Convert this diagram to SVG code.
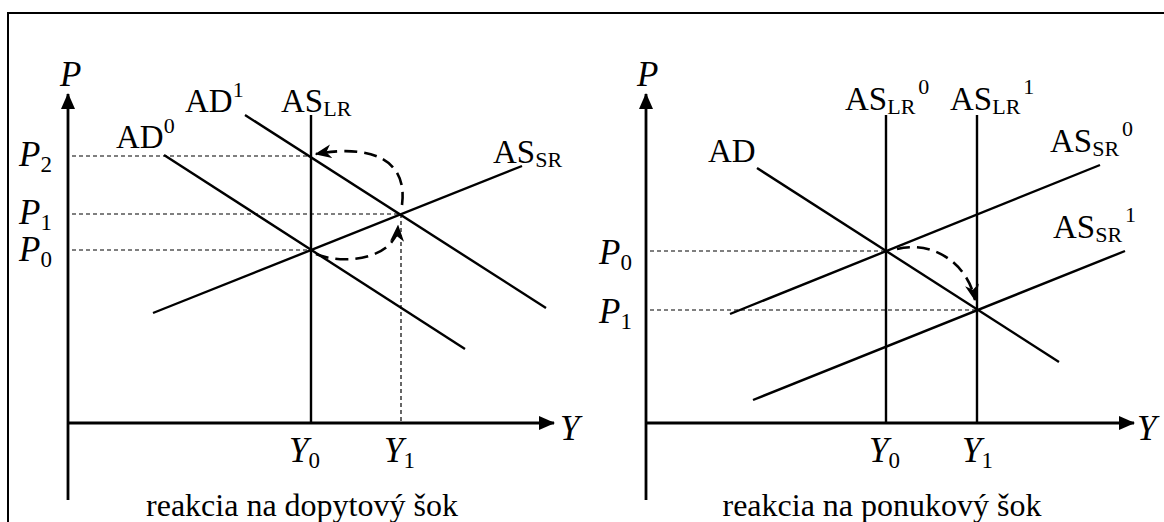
<svg xmlns="http://www.w3.org/2000/svg" width="1164" height="522" viewBox="0 0 1164 522">
<style>
text{font-family:"Liberation Serif","Times New Roman",serif;font-size:33px;fill:#000}
.it{font-style:italic;font-size:35px}
.sm{font-size:22px;font-style:normal}
.it .sm{font-size:23px}
.cap{font-size:32px}
.ln{stroke:#000;stroke-width:2.4;fill:none}
.ax{stroke:#000;stroke-width:2.8;fill:none}
.dl{stroke:#000;stroke-width:1.2;stroke-dasharray:4 3;fill:none}
.cv{stroke:#000;stroke-width:2.6;stroke-dasharray:13 7;fill:none}
</style>
<defs>
<marker id="ah" viewBox="0 0 12 10" refX="11" refY="5" markerWidth="17" markerHeight="14" markerUnits="userSpaceOnUse" orient="auto">
<path d="M0,0 L12,5 L0,10 L3.5,5 Z" fill="#000"/>
</marker>
<marker id="ax" viewBox="0 0 16 14" refX="15" refY="7" markerWidth="16" markerHeight="14" markerUnits="userSpaceOnUse" orient="auto">
<path d="M0,0 L16,7 L0,14 Z" fill="#000"/>
</marker>
</defs>
<rect width="1164" height="522" fill="#fff"/>
<path d="M8,522 V13 H1164" stroke="#000" stroke-width="2" fill="none"/>

<g id="left-panel">
<g id="left-axes">
<line class="ax" x1="68" y1="500" x2="68" y2="94" marker-end="url(#ax)"/>
<line class="ax" x1="67" y1="423" x2="554" y2="423" marker-end="url(#ax)"/>
<text class="it" x="60" y="86">P</text>
<text class="it" x="560" y="440">Y</text>
</g>
<g id="left-connectors">
<line class="dl" x1="72" y1="156" x2="311" y2="156"/>
<line class="dl" x1="72" y1="214" x2="401" y2="214"/>
<line class="dl" x1="72" y1="250" x2="311" y2="250"/>
<line class="dl" x1="401" y1="214" x2="401" y2="423"/>
<line class="ln" x1="311" y1="115" x2="311" y2="423"/>
<line class="ln" x1="164" y1="155" x2="465" y2="349"/>
<line class="ln" x1="245" y1="115" x2="546" y2="308"/>
<line class="ln" x1="153" y1="313" x2="522" y2="166"/>
<path class="cv" d="M316,254 C345,266 396,258 398,226" marker-end="url(#ah)"/>
<path class="cv" d="M402,205 C408,160 372,144 316,154" marker-end="url(#ah)"/>
</g>
<g id="left-labels">
<text x="116" y="148">AD<tspan class="sm" dy="-15">0</tspan></text>
<text x="185" y="112">AD<tspan class="sm" dy="-15">1</tspan></text>
<text x="281" y="112">AS<tspan class="sm" dy="4">LR</tspan></text>
<text x="493" y="163">AS<tspan class="sm" dy="4">SR</tspan></text>
<text class="it" x="19" y="166">P<tspan class="sm" dy="6">2</tspan></text>
<text class="it" x="19" y="224">P<tspan class="sm" dy="6">1</tspan></text>
<text class="it" x="19" y="261">P<tspan class="sm" dy="6">0</tspan></text>
<text class="it" x="289" y="462">Y<tspan class="sm" dy="6">0</tspan></text>
<text class="it" x="384" y="462">Y<tspan class="sm" dy="6">1</tspan></text>
<text class="cap" x="302" y="516" text-anchor="middle">reakcia na dopytový šok</text>
</g>
</g>

<g id="right-panel">
<g id="right-axes">
<line class="ax" x1="646" y1="500" x2="646" y2="94" marker-end="url(#ax)"/>
<line class="ax" x1="645" y1="423" x2="1134" y2="423" marker-end="url(#ax)"/>
<text class="it" x="637" y="86">P</text>
<text class="it" x="1137" y="440">Y</text>
</g>
<g id="right-connectors">
<line class="dl" x1="650" y1="251" x2="886" y2="251"/>
<line class="dl" x1="650" y1="310" x2="977" y2="310"/>
<line class="ln" x1="886" y1="115" x2="886" y2="423"/>
<line class="ln" x1="977" y1="115" x2="977" y2="423"/>
<line class="ln" x1="757" y1="168" x2="1059" y2="362"/>
<line class="ln" x1="730" y1="314" x2="1100" y2="165"/>
<line class="ln" x1="753" y1="400" x2="1125" y2="251"/>
<path class="cv" d="M897,249 C935,240 968,265 975,300" marker-end="url(#ah)"/>
</g>
<g id="right-labels">
<text x="708" y="162">AD</text>
<text x="845" y="110">AS<tspan class="sm" dy="4">LR</tspan><tspan class="sm" dx="3" dy="-20">0</tspan></text>
<text x="950" y="110">AS<tspan class="sm" dy="4">LR</tspan><tspan class="sm" dx="3" dy="-20">1</tspan></text>
<text x="1050" y="152">AS<tspan class="sm" dy="4">SR</tspan><tspan class="sm" dx="3" dy="-20">0</tspan></text>
<text x="1053" y="238">AS<tspan class="sm" dy="4">SR</tspan><tspan class="sm" dx="3" dy="-20">1</tspan></text>
<text class="it" x="599" y="264">P<tspan class="sm" dy="6">0</tspan></text>
<text class="it" x="599" y="323">P<tspan class="sm" dy="6">1</tspan></text>
<text class="it" x="869" y="462">Y<tspan class="sm" dy="6">0</tspan></text>
<text class="it" x="962" y="462">Y<tspan class="sm" dy="6">1</tspan></text>
<text class="cap" x="882" y="516" text-anchor="middle">reakcia na ponukový šok</text>
</g>
</g>
</svg>
